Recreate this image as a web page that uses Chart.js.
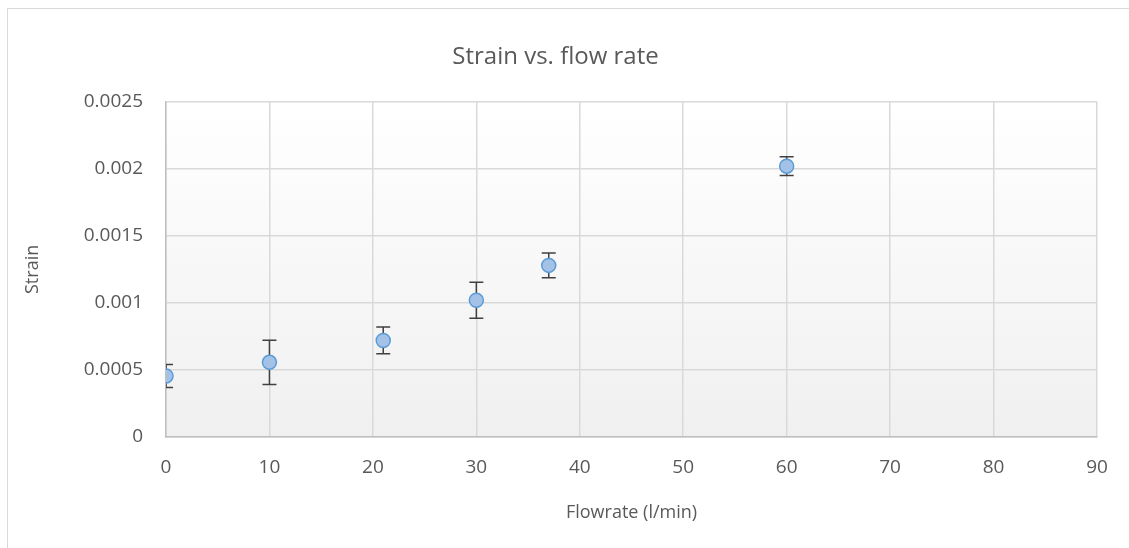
<!DOCTYPE html>
<html>
<head>
<meta charset="utf-8">
<script src="https://cdn.jsdelivr.net/npm/chart.js@4"></script>
<style>
  html, body { margin: 0; padding: 0; background: #fff; }
  #wrap { width: 1129px; height: 548px; }
</style>
</head>
<body>
<div id="wrap"><canvas id="strainChart" width="1129" height="548"></canvas></div>
<script>
const flowrate = [0, 10, 21, 30, 37, 60];
const strain = [0.000455, 0.000557, 0.00072, 0.00102, 0.00128, 0.00202];
const strainErr = [0.000085, 0.000165, 0.0001, 0.000134, 0.000092, 0.00007];
const xTicks = [0, 10, 20, 30, 40, 50, 60, 70, 80, 90];
const yTicks = [0, 0.0005, 0.001, 0.0015, 0.002, 0.0025];

const FONT = "'Open Sans', 'Liberation Sans', sans-serif";
const TEXT = "#595959";

// plot area gradient + outer frame
const bgPlugin = {
    id: "bg",
    beforeDraw(chart) {
        const ctx = chart.ctx;
        const a = chart.chartArea;
        ctx.save();
        ctx.strokeStyle = "#d9d9d9";
        ctx.lineWidth = 1;
        ctx.strokeRect(7.5, 8.5, chart.width + 10, chart.height + 10);
        const g = ctx.createLinearGradient(0, a.top, 0, a.bottom);
        g.addColorStop(0, "#ffffff");
        g.addColorStop(1, "#f0f0f0");
        ctx.fillStyle = g;
        ctx.fillRect(a.left, a.top, a.right - a.left, a.bottom - a.top);
        ctx.restore();
    }
};

// error bars, drawn under the markers and clipped to the plot
const errPlugin = {
    id: "errbars",
    beforeDatasetsDraw(chart) {
        const ctx = chart.ctx;
        const a = chart.chartArea;
        const xs = chart.scales.x, ys = chart.scales.y;
        ctx.save();
        ctx.beginPath();
        ctx.rect(a.left, a.top - 10, a.right - a.left, a.bottom - a.top + 20);
        ctx.clip();
        ctx.strokeStyle = "#404040";
        ctx.lineWidth = 1.5;
        flowrate.forEach((fx, i) => {
            const px = xs.getPixelForValue(fx);
            const top = ys.getPixelForValue(strain[i] + strainErr[i]);
            const bot = ys.getPixelForValue(strain[i] - strainErr[i]);
            ctx.beginPath();
            ctx.moveTo(px, top); ctx.lineTo(px, bot);
            ctx.moveTo(px - 7, top); ctx.lineTo(px + 7, top);
            ctx.moveTo(px - 7, bot); ctx.lineTo(px + 7, bot);
            ctx.stroke();
        });
        ctx.restore();
    }
};

new Chart(document.getElementById("strainChart"), {
    type: "scatter",
    data: {
        datasets: [{
            label: "Strain",
            data: flowrate.map((x, i) => ({ x: x, y: strain[i] })),
            backgroundColor: "#a4c2e8",
            borderColor: "#5b9bd5",
            borderWidth: 1.5,
            pointRadius: 7,
            pointHoverRadius: 7
        }]
    },
    options: {
        responsive: false,
        animation: false,
        layout: { padding: { left: 14, right: 32, top: 0, bottom: 20 } },
        plugins: {
            legend: { display: false },
            tooltip: { enabled: false },
            title: {
                display: true,
                text: "Strain vs. flow rate",
                color: TEXT,
                font: { family: FONT, size: 24, weight: "normal" },
                padding: { top: 43, bottom: 30 }
            }
        },
        scales: {
            x: {
                type: "linear",
                min: 0, max: 90,
                afterBuildTicks(axis) { axis.ticks = xTicks.map(v => ({ value: v })); },
                afterFit(axis) { axis.height = 91; },
                grid: { color: "#d9d9d9", lineWidth: 1.5, drawTicks: false },
                border: { color: "#bfbfbf", width: 1.5 },
                ticks: { color: TEXT, font: { family: FONT, size: 19 }, padding: 19 },
                title: {
                    display: true, text: "Flowrate (l/min)", color: TEXT,
                    font: { family: FONT, size: 18 }, padding: { top: 9 }
                }
            },
            y: {
                min: 0, max: 0.0025,
                afterBuildTicks(axis) { axis.ticks = yTicks.map(v => ({ value: v })); },
                afterFit(axis) { axis.width = 152; },
                grid: { color: "#d9d9d9", lineWidth: 1.5, drawTicks: false },
                border: { color: "#bfbfbf", width: 1.5 },
                ticks: {
                    color: TEXT, font: { family: FONT, size: 19 }, padding: 23,
                    callback: v => String(Number(v.toFixed(4)))
                },
                title: {
                    display: true, text: "Strain", color: TEXT,
                    font: { family: FONT, size: 18 }, padding: { top: 8, bottom: 0 }
                }
            }
        }
    },
    plugins: [bgPlugin, errPlugin]
});
</script>
</body>
</html>
